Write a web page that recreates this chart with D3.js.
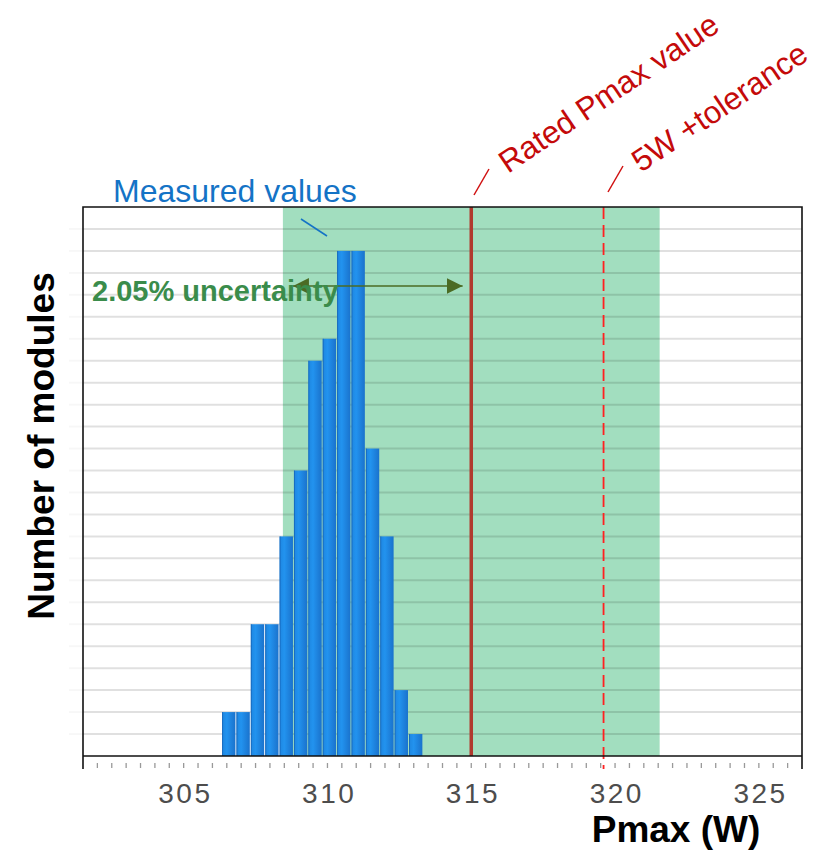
<!DOCTYPE html>
<html>
<head>
<meta charset="utf-8">
<script src="https://cdn.jsdelivr.net/npm/d3@7"></script>
<style>
  html, body { margin: 0; padding: 0; background: #fff; }
  svg { display: block; }
  text { font-family: "Liberation Sans", Arial, Helvetica, sans-serif; }
</style>
</head>
<body>
<svg id="chart" width="838" height="854"></svg>
<script>
// ---- data ----
const binStarts = [306.3, 306.8, 307.3, 307.8, 308.3, 308.8, 309.3, 309.8, 310.3, 310.8, 311.3, 311.8, 312.3, 312.8];
const counts    = [2, 2, 6, 6, 10, 13, 18, 19, 23, 23, 14, 10, 3, 1];
const binWidth = 0.5;
const xTickValues = [305, 310, 315, 320, 325];
const minorTickValues = d3.range(302, 326.01, 0.5);
const ratedPmax = 315;
const tolerancePmax = 319.6;
const uncertaintyBand = [308.45, 321.55];
const arrowRange = [308.8, 314.7];
const yMax = 25;

// ---- layout ----
const svg = d3.select("#chart");
const pL = 83, pR = 802, pT = 207, pB = 756;
const x = d3.scaleLinear().domain([301.5, 326.5]).range([pL, pR]);
const y = d3.scaleLinear().domain([0, yMax]).range([pB, pT]);

const defs = svg.append("defs");
const grad = defs.append("linearGradient").attr("id", "barGrad")
  .attr("x1", "0").attr("x2", "1").attr("y1", "0").attr("y2", "0");
grad.append("stop").attr("offset", "0%").attr("stop-color", "#1e86e0");
grad.append("stop").attr("offset", "35%").attr("stop-color", "#2293ef");
grad.append("stop").attr("offset", "100%").attr("stop-color", "#1a72cc");

const mk = (id, color) => {
  defs.append("marker").attr("id", id)
    .attr("viewBox", "0 0 16 16").attr("refX", 16).attr("refY", 8)
    .attr("markerWidth", 16).attr("markerHeight", 16)
    .attr("markerUnits", "userSpaceOnUse")
    .attr("orient", "auto-start-reverse")
    .append("path").attr("d", "M0,0 L16,8 L0,16 Z").attr("fill", color);
};
mk("arrowG", "#4b6b24");

// uncertainty band
svg.append("rect")
  .attr("x", x(uncertaintyBand[0])).attr("y", pT)
  .attr("width", x(uncertaintyBand[1]) - x(uncertaintyBand[0]))
  .attr("height", pB - pT)
  .attr("fill", "#a2debf");

// gridlines
const gridVals = d3.range(1, yMax);
svg.append("g").selectAll("line").data(gridVals).join("line")
  .attr("x1", pL - 14).attr("x2", pL)
  .attr("y1", d => y(d)).attr("y2", d => y(d))
  .attr("stroke", "#000").attr("stroke-opacity", 0.03).attr("stroke-width", 2);
svg.append("g").selectAll("line").data(gridVals).join("line")
  .attr("x1", pL).attr("x2", pR)
  .attr("y1", d => y(d)).attr("y2", d => y(d))
  .attr("stroke", "#000").attr("stroke-opacity", 0.12).attr("stroke-width", 2);

// bars
const bars = binStarts.map((b, i) => ({ x0: b, x1: b + binWidth, n: counts[i] }));
svg.append("g").selectAll("rect").data(bars).join("rect")
  .attr("x", d => x(d.x0) + 1)
  .attr("y", d => y(d.n))
  .attr("width", d => x(d.x1) - x(d.x0) - 1)
  .attr("height", d => y(0) - y(d.n))
  .attr("fill", "url(#barGrad)");
svg.append("g").selectAll("line").data(bars).join("line")
  .attr("x1", d => x(d.x0) + 1.5).attr("x2", d => x(d.x0) + 1.5)
  .attr("y1", d => y(d.n)).attr("y2", y(0))
  .attr("stroke", "#1560b0").attr("stroke-opacity", 0.7).attr("stroke-width", 1);

// rated line
svg.append("line")
  .attr("x1", x(ratedPmax)).attr("x2", x(ratedPmax))
  .attr("y1", pT).attr("y2", pB)
  .attr("stroke", "#b03a2e").attr("stroke-width", 3.5);

// tolerance line (dashed)
svg.append("line")
  .attr("x1", x(tolerancePmax)).attr("x2", x(tolerancePmax))
  .attr("y1", pT).attr("y2", pB + 13)
  .attr("stroke", "#ff2020").attr("stroke-width", 1.8)
  .attr("stroke-dasharray", "12,6");

// frame
const frame = svg.append("g").attr("stroke", "#111").attr("stroke-width", 1.6).attr("fill", "none");
frame.append("path").attr("d", `M${pL},${pB + 13} L${pL},${pT} L${pR},${pT} L${pR},${pB + 13}`);
frame.append("line").attr("x1", pL).attr("x2", pR).attr("y1", pB).attr("y2", pB);

// minor ticks
svg.append("g").selectAll("line").data(minorTickValues).join("line")
  .attr("x1", d => x(d)).attr("x2", d => x(d))
  .attr("y1", pB + 7).attr("y2", pB + 12)
  .attr("stroke", "#999").attr("stroke-width", 1.3);

// x tick labels via axis
const xAxis = d3.axisBottom(x).tickValues(xTickValues).tickSize(0).tickPadding(0).tickFormat(d3.format("d"));
const gx = svg.append("g").attr("transform", `translate(0,${pB})`).call(xAxis);
gx.select(".domain").remove();
gx.selectAll("text")
  .attr("y", 47).attr("dy", null)
  .attr("font-size", 28).attr("fill", "#4d4d4d")
  .attr("letter-spacing", "2.5px").attr("dx", "1.2")
  .style("font-family", '"Liberation Sans", Arial, sans-serif');

// axis titles
svg.append("text").text("Pmax (W)")
  .attr("x", 676).attr("y", 842).attr("text-anchor", "middle")
  .attr("font-size", 37).attr("font-weight", "bold").attr("fill", "#000");
svg.append("text").text("Number of modules")
  .attr("transform", "translate(54,446) rotate(-90)")
  .attr("text-anchor", "middle")
  .attr("font-size", 37).attr("font-weight", "bold").attr("fill", "#000");

// measured values annotation
svg.append("text").text("Measured values")
  .attr("x", 113).attr("y", 202)
  .attr("font-size", 32).attr("fill", "#1473c6");
svg.append("line")
  .attr("x1", 301).attr("y1", 219).attr("x2", 327).attr("y2", 236)
  .attr("stroke", "#1473c6").attr("stroke-width", 1.5);

// uncertainty arrow + text
svg.append("line")
  .attr("x1", x(arrowRange[0])).attr("x2", x(arrowRange[1]))
  .attr("y1", 286).attr("y2", 286)
  .attr("stroke", "#4b6b24").attr("stroke-width", 1.6)
  .attr("marker-start", "url(#arrowG)").attr("marker-end", "url(#arrowG)");
svg.append("text").text("2.05% uncertainty")
  .attr("x", 92).attr("y", 301)
  .attr("font-size", 29).attr("font-weight", "bold").attr("fill", "#3a8c4b");

// rotated red labels
svg.append("line").attr("x1", 474).attr("y1", 195).attr("x2", 489).attr("y2", 169)
  .attr("stroke", "#d01010").attr("stroke-width", 1.5);
svg.append("line").attr("x1", 608).attr("y1", 192).attr("x2", 623).attr("y2", 166)
  .attr("stroke", "#d01010").attr("stroke-width", 1.5);
svg.append("text").text("Rated Pmax value")
  .attr("transform", "translate(508,174) rotate(-34)")
  .attr("font-size", 31.5).attr("fill", "#c40a0a");
svg.append("text").text("5W +tolerance")
  .attr("transform", "translate(641,173) rotate(-34)")
  .attr("font-size", 31.5).attr("fill", "#c40a0a");
</script>
</body>
</html>
